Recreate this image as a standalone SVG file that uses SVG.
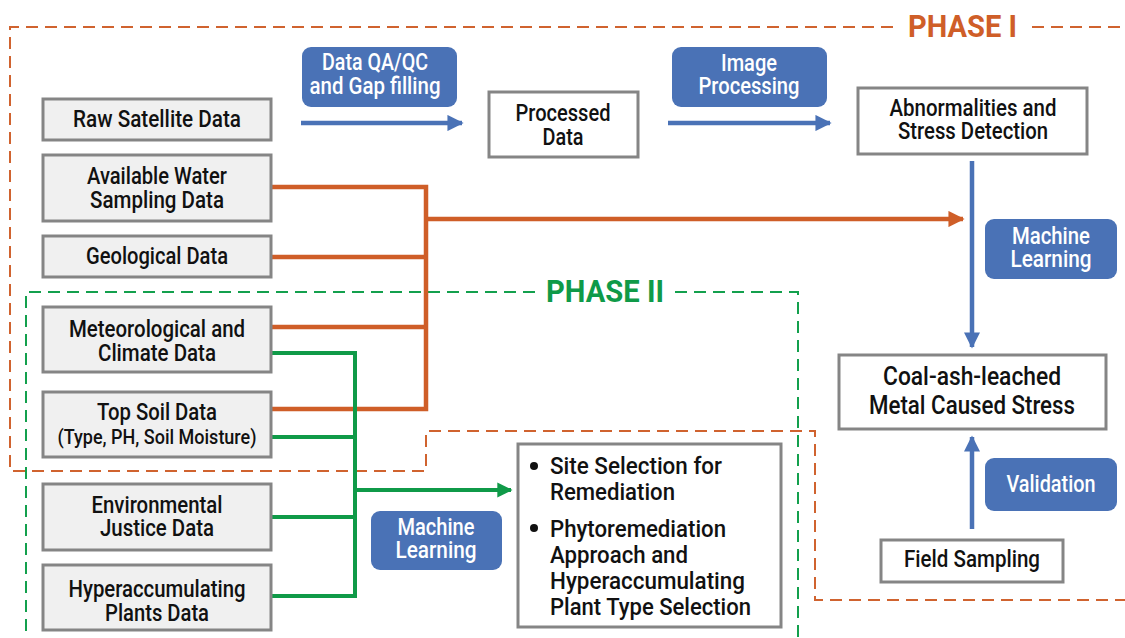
<svg xmlns="http://www.w3.org/2000/svg" width="1125" height="638" viewBox="0 0 1125 638">
<style>
.g{fill:#f0f0f0;stroke:#858585;stroke-width:3}
.w{fill:#ffffff;stroke:#858585;stroke-width:3}
.b{fill:#4a72b6}
.t{font-family:Roboto,"Liberation Sans",sans-serif;font-weight:500;font-size:23px;fill:#111;text-anchor:middle}
.tw{font-family:Roboto,"Liberation Sans",sans-serif;font-weight:500;font-size:23px;fill:#fff;text-anchor:middle}
.tl{font-family:Roboto,"Liberation Sans",sans-serif;font-weight:500;font-size:24px;fill:#111}
.ph{font-family:Roboto,"Liberation Sans",sans-serif;font-weight:700;font-size:31px}
.o{fill:none;stroke:#cf5e28;stroke-width:4.5}
.gr{fill:none;stroke:#0f9a48;stroke-width:4}
.bl{fill:none;stroke:#4a72b6;stroke-width:4.5}
.od{fill:none;stroke:#d0632f;stroke-width:2;stroke-dasharray:12 7}
.gd{fill:none;stroke:#13a04d;stroke-width:2;stroke-dasharray:12 7}
</style>
<defs>
<marker id="ab" viewBox="0 0 10 10" refX="9" refY="5" markerWidth="3.6" markerHeight="3.6" orient="auto" markerUnits="strokeWidth"><path d="M0,0 L10,5 L0,10 z" fill="#4a72b6"/></marker>
<marker id="ao" viewBox="0 0 10 10" refX="9" refY="5" markerWidth="3.6" markerHeight="3.6" orient="auto" markerUnits="strokeWidth"><path d="M0,0 L10,5 L0,10 z" fill="#cf5e28"/></marker>
<marker id="ag" viewBox="0 0 10 10" refX="9" refY="5" markerWidth="3.8" markerHeight="3.8" orient="auto" markerUnits="strokeWidth"><path d="M0,0 L10,5 L0,10 z" fill="#0f9a48"/></marker>
</defs>

<g id="phase1-frame">
<path class="od" d="M893,27 L10,27 L10,471 L426,471 L426,431 L815,431 L815,600 L1125,600"/>
<path class="od" d="M1032,27 L1125,27"/>
<text class="ph" x="908" y="37" fill="#cf5e28" textLength="109" lengthAdjust="spacingAndGlyphs">PHASE I</text>
</g>
<g id="phase2-frame">
<path class="gd" d="M535,292 L26,292 L26,638"/>
<path class="gd" d="M675,292 L798,292 L798,638"/>
<text class="ph" x="546" y="302" fill="#0f9a48" textLength="118" lengthAdjust="spacingAndGlyphs">PHASE II</text>
</g>

<g id="connectors">
<path class="bl" d="M301,123 L462,123" marker-end="url(#ab)"/>
<path class="bl" d="M668,123 L830,123" marker-end="url(#ab)"/>
<path class="bl" d="M972,161 L972,347" marker-end="url(#ab)"/>
<path class="bl" d="M972,529 L972,437" marker-end="url(#ab)"/>
<path class="o" d="M271,187 L426,187 L426,409 L271,409"/>
<path class="o" d="M271,257 L426,257"/>
<path class="o" d="M271,327 L426,327"/>
<path class="o" d="M426,219 L963,219" marker-end="url(#ao)"/>
<path class="gr" d="M271,353 L355,353 L355,596 L271,596"/>
<path class="gr" d="M271,437 L355,437"/>
<path class="gr" d="M271,517 L355,517"/>
<path class="gr" d="M355,490 L511,490" marker-end="url(#ag)"/>
</g>

<g id="raw"><rect class="g" x="43" y="99" width="228" height="41"/><text class="t" x="157" y="127" textLength="168" lengthAdjust="spacingAndGlyphs">Raw Satellite Data</text></g>
<g id="water"><rect class="g" x="43" y="155" width="228" height="66"/><text class="t" x="157" y="184" textLength="140" lengthAdjust="spacingAndGlyphs">Available Water</text><text class="t" x="157" y="208" textLength="134" lengthAdjust="spacingAndGlyphs">Sampling Data</text></g>
<g id="geo"><rect class="g" x="43" y="236" width="228" height="41"/><text class="t" x="157" y="264" textLength="142" lengthAdjust="spacingAndGlyphs">Geological Data</text></g>
<g id="meteo"><rect class="g" x="43" y="307" width="228" height="65"/><text class="t" x="157" y="337" textLength="176" lengthAdjust="spacingAndGlyphs">Meteorological and</text><text class="t" x="157" y="361" textLength="118" lengthAdjust="spacingAndGlyphs">Climate Data</text></g>
<g id="soil"><rect class="g" x="43" y="392" width="228" height="65"/><text class="t" x="157" y="420" textLength="120" lengthAdjust="spacingAndGlyphs">Top Soil Data</text><text class="t" x="157" y="444" style="font-size:20px" textLength="199" lengthAdjust="spacingAndGlyphs">(Type, PH, Soil Moisture)</text></g>
<g id="ej"><rect class="g" x="43" y="484" width="228" height="66"/><text class="t" x="157" y="513" textLength="131" lengthAdjust="spacingAndGlyphs">Environmental</text><text class="t" x="157" y="536" textLength="114" lengthAdjust="spacingAndGlyphs">Justice Data</text></g>
<g id="hyper"><rect class="g" x="43" y="565" width="228" height="65"/><text class="t" x="157" y="597" textLength="177" lengthAdjust="spacingAndGlyphs">Hyperaccumulating</text><text class="t" x="157" y="621" textLength="104" lengthAdjust="spacingAndGlyphs">Plants Data</text></g>

<g id="processed"><rect class="w" x="489" y="92" width="149" height="65"/><text class="t" x="563" y="121" textLength="95" lengthAdjust="spacingAndGlyphs">Processed</text><text class="t" x="563" y="145" textLength="41" lengthAdjust="spacingAndGlyphs">Data</text></g>
<g id="abnormal"><rect class="w" x="858" y="88" width="229" height="66"/><text class="t" x="973" y="116" textLength="167" lengthAdjust="spacingAndGlyphs">Abnormalities and</text><text class="t" x="973" y="139" textLength="150" lengthAdjust="spacingAndGlyphs">Stress Detection</text></g>
<g id="coal"><rect class="w" x="839" y="355" width="267" height="74"/><text class="t" x="972" y="385" style="font-size:25px" textLength="178" lengthAdjust="spacingAndGlyphs">Coal-ash-leached</text><text class="t" x="972" y="414" style="font-size:25px" textLength="206" lengthAdjust="spacingAndGlyphs">Metal Caused Stress</text></g>
<g id="field"><rect class="w" x="881" y="540" width="182" height="42"/><text class="t" x="972" y="567" textLength="136" lengthAdjust="spacingAndGlyphs">Field Sampling</text></g>
<g id="outcome"><rect class="w" x="518" y="444" width="263" height="183"/>
<circle cx="534" cy="466" r="4" fill="#111"/><circle cx="534" cy="528" r="4" fill="#111"/>
<text class="tl" x="550" y="474" textLength="172" lengthAdjust="spacingAndGlyphs">Site Selection for</text>
<text class="tl" x="550" y="500" textLength="125" lengthAdjust="spacingAndGlyphs">Remediation</text>
<text class="tl" x="550" y="537" textLength="176" lengthAdjust="spacingAndGlyphs">Phytoremediation</text>
<text class="tl" x="550" y="563" textLength="138" lengthAdjust="spacingAndGlyphs">Approach and</text>
<text class="tl" x="550" y="589" textLength="195" lengthAdjust="spacingAndGlyphs">Hyperaccumulating</text>
<text class="tl" x="550" y="615" textLength="201" lengthAdjust="spacingAndGlyphs">Plant Type Selection</text>
</g>

<g id="qaqc"><rect class="b" x="302" y="47" width="155" height="60" rx="9"/><text class="tw" x="375" y="70" textLength="106" lengthAdjust="spacingAndGlyphs">Data QA/QC</text><text class="tw" x="375" y="94" textLength="131" lengthAdjust="spacingAndGlyphs">and Gap filling</text></g>
<g id="imgproc"><rect class="b" x="672" y="47" width="155" height="60" rx="9"/><text class="tw" x="749" y="71" textLength="56" lengthAdjust="spacingAndGlyphs">Image</text><text class="tw" x="749" y="94" textLength="101" lengthAdjust="spacingAndGlyphs">Processing</text></g>
<g id="ml-right"><rect class="b" x="985" y="219" width="132" height="60" rx="9"/><text class="tw" x="1051" y="244" textLength="78" lengthAdjust="spacingAndGlyphs">Machine</text><text class="tw" x="1051" y="267" textLength="81" lengthAdjust="spacingAndGlyphs">Learning</text></g>
<g id="validation"><rect class="b" x="985" y="458" width="132" height="53" rx="9"/><text class="tw" x="1051" y="492" textLength="89" lengthAdjust="spacingAndGlyphs">Validation</text></g>
<g id="ml-left"><rect class="b" x="371" y="511" width="131" height="59" rx="9"/><text class="tw" x="436" y="535" textLength="77" lengthAdjust="spacingAndGlyphs">Machine</text><text class="tw" x="436" y="558" textLength="81" lengthAdjust="spacingAndGlyphs">Learning</text></g>
</svg>
